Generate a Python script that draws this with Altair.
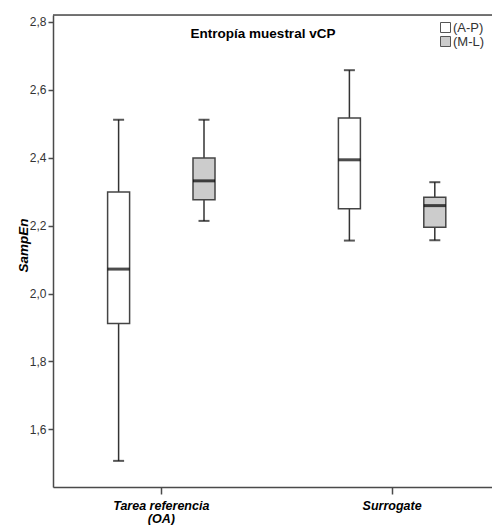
import altair as alt
import pandas as pd

# ---- data ----
groups = ["Tarea referencia (OA)", "Tarea referencia (OA)", "Surrogate", "Surrogate"]
series = ["(A-P)", "(M-L)", "(A-P)", "(M-L)"]
whisker_low = [1.507, 2.214, 2.156, 2.157]
q1 = [1.912, 2.276, 2.250, 2.195]
median = [2.072, 2.332, 2.394, 2.259]
q3 = [2.299, 2.399, 2.517, 2.284]
whisker_high = [2.512, 2.512, 2.658, 2.328]

group_order = ["Tarea referencia (OA)", "Surrogate"]
series_order = ["(A-P)", "(M-L)"]
fills = ["#ffffff", "#cccccc"]
y_ticks = [1.6, 1.8, 2.0, 2.2, 2.4, 2.6, 2.8]
y_domain = [1.430, 2.8206]
title_text = "Entropía muestral vCP"
y_title = "SampEn"

df = pd.DataFrame({
    "group": groups, "series": series, "low": whisker_low, "q1": q1,
    "median": median, "q3": q3, "high": whisker_high,
})

FONT = "Liberation Sans"
W, H = 439, 472

x_enc = alt.X(
    "group:N", sort=group_order,
    scale=alt.Scale(domain=group_order, paddingInner=0.1343, paddingOuter=0.0182, align=1),
    axis=alt.Axis(
        title=None, labelAngle=0, labelFont=FONT, labelFontSize=12.5, labelFontWeight="bold",
        labelFontStyle="italic", labelColor="#000", labelPadding=5, labelLineHeight=13,
        labelBaseline="top",
        labelExpr="datum.label == 'Tarea referencia (OA)' ? ['Tarea referencia', '(OA)'] : datum.label",
        tickSize=7, domainColor="#4a4a4a", tickColor="#4a4a4a", domainWidth=1.5, tickWidth=1.5,
        grid=False,
    ),
)
xo_enc = alt.XOffset("series:N", scale=alt.Scale(domain=series_order, paddingInner=0, paddingOuter=0.1698))

y_axis = alt.Axis(
    values=y_ticks, title=y_title, grid=False,
    labelExpr="replace(format(datum.value, '.1f'), '.', ',')",
    labelFont=FONT, labelFontSize=12, labelColor="#333", labelPadding=2,
    tickSize=5, domainColor="#4a4a4a", tickColor="#4a4a4a", domainWidth=1.5, tickWidth=1.5,
    titleFont=FONT, titleFontSize=13.5, titleFontWeight="bold", titleFontStyle="italic",
    titleColor="#000", titleX=-26, titleY=230, titleAngle=270, titleAlign="center",
    titleBaseline="alphabetic",
)
y_scale = alt.Scale(domain=y_domain, nice=False, zero=False)


def yenc(field):
    return alt.Y(f"{field}:Q", scale=y_scale, axis=y_axis)


base = alt.Chart(df)

low_rule = base.mark_rule(color="#333", strokeWidth=1.5).encode(
    x=x_enc, xOffset=xo_enc, y=yenc("low"), y2="q1:Q")
high_rule = base.mark_rule(color="#333", strokeWidth=1.5).encode(
    x=x_enc, xOffset=xo_enc, y=yenc("q3"), y2="high:Q")

boxes = base.mark_bar(size=22, stroke="#444", strokeWidth=1.5).encode(
    x=x_enc, xOffset=xo_enc, y=yenc("q1"), y2="q3:Q",
    fill=alt.Fill("series:N", scale=alt.Scale(domain=series_order, range=fills),
                  legend=alt.Legend(title=None, orient="none", legendX=386, legendY=6,
                                    symbolType="square", symbolSize=100,
                                    symbolStrokeColor="#555", symbolStrokeWidth=1,
                                    labelFont=FONT, labelFontSize=13, labelColor="#333",
                                    labelOffset=1, rowPadding=-2, padding=0)),
)

med = base.mark_tick(orient="horizontal", size=22, thickness=3, color="#000").encode(
    x=x_enc, xOffset=xo_enc, y=yenc("median"))
cap_low = base.mark_tick(orient="horizontal", size=11, thickness=2, color="#111").encode(
    x=x_enc, xOffset=xo_enc, y=yenc("low"))
cap_high = base.mark_tick(orient="horizontal", size=11, thickness=2, color="#111").encode(
    x=x_enc, xOffset=xo_enc, y=yenc("high"))

top_border = alt.Chart(alt.Data(values=[{"t": title_text}])).mark_rule(
    color="#4a4a4a", strokeWidth=1.5).encode(
    x=alt.value(0), x2=alt.value(W), y=alt.value(0))

title_mark = alt.Chart(alt.Data(values=[{"t": title_text}])).mark_text(
    font=FONT, fontSize=13.5, fontWeight="bold", color="#000", align="center",
    baseline="alphabetic").encode(
    text="t:N", x=alt.value(210), y=alt.value(23))

chart = alt.layer(
    low_rule, high_rule, boxes, med, cap_low, cap_high, top_border, title_mark
).properties(
    width=W, height=H,
    autosize=alt.AutoSizeParams(type="none"),
    padding={"left": 53, "top": 15, "right": 0, "bottom": 38},
).configure_view(stroke=None).configure(background="white")

chart.save("out.html", embed_options={"renderer": "svg", "actions": False})
